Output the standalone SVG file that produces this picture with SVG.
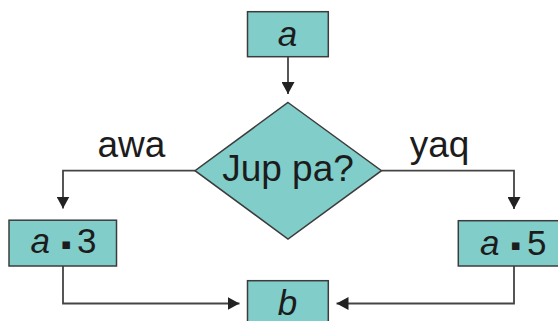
<svg xmlns="http://www.w3.org/2000/svg" width="558" height="321" viewBox="0 0 558 321">
  <style>
    .node { fill: #80CDC9; stroke: #3c3c3c; stroke-width: 1.5; }
    .conn { fill: none; stroke: #444444; stroke-width: 1.8; }
    .t { font-family: "Liberation Sans", Arial, sans-serif; fill: #1c1c1c; }
    .big { font-size: 37px; }
    .box { font-size: 35px; }
    .it { font-style: italic; }
    .dot { font-family: "DejaVu Sans", sans-serif; font-size: 15px; }
  </style>
  <defs>
    <marker id="arrow" viewBox="0 0 12 13" refX="12" refY="6.5" markerWidth="12" markerHeight="13" markerUnits="userSpaceOnUse" orient="auto">
      <path d="M0,0 L12,6.5 L0,13 Z" fill="#222222"/>
    </marker>
  </defs>
  <rect width="558" height="321" fill="#ffffff"/>

  <g id="connectors">
    <path class="conn" d="M288,57 V94" marker-end="url(#arrow)"/>
    <path class="conn" d="M195,170.7 H63 V208.5" marker-end="url(#arrow)"/>
    <path class="conn" d="M381.5,170.7 H514 V209" marker-end="url(#arrow)"/>
    <path class="conn" d="M63,266 V303.5 H239.5" marker-end="url(#arrow)"/>
    <path class="conn" d="M514,266 V303.5 H336.5" marker-end="url(#arrow)"/>
    <text class="t big" x="131.5" y="156.7" text-anchor="middle">awa</text>
    <text class="t big" x="439.5" y="156.7" text-anchor="middle">yaq</text>
  </g>

  <g id="node-a">
    <rect class="node" x="247.5" y="11.7" width="80.8" height="45"/>
    <text class="t box it" x="287.5" y="45.5" text-anchor="middle">a</text>
  </g>

  <g id="node-decision">
    <polygon class="node" points="288,102.5 381.5,170.7 288,239 195,170.7"/>
    <text class="t big" x="288" y="180.5" text-anchor="middle">Jup pa?</text>
  </g>

  <g id="node-a3">
    <rect class="node" x="9" y="220.2" width="107.5" height="45.8"/>
    <text class="t box" y="253"><tspan class="it" x="30.5">a</tspan><tspan class="dot" x="61" y="248.5">▪</tspan><tspan x="77" y="253">3</tspan></text>
  </g>

  <g id="node-a5">
    <rect class="node" x="458.3" y="220.7" width="104" height="45.3"/>
    <text class="t box" y="254.5"><tspan class="it" x="480">a</tspan><tspan class="dot" x="510.5" y="250">▪</tspan><tspan x="527" y="254.5">5</tspan></text>
  </g>

  <g id="node-b">
    <rect class="node" x="247.5" y="280.7" width="80.8" height="50"/>
    <text class="t box it" x="287.5" y="315" text-anchor="middle">b</text>
  </g>
</svg>
